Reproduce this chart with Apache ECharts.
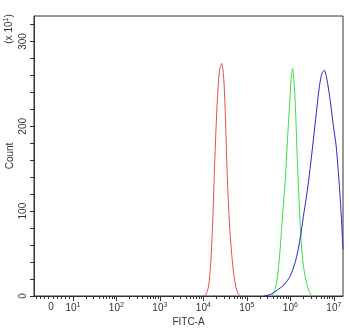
<!DOCTYPE html>
<html><head><meta charset="utf-8">
<script src="https://cdn.jsdelivr.net/npm/echarts@6/dist/echarts.min.js"></script>
<style>html,body{margin:0;padding:0;background:#fff}#chart{width:350px;height:329px}</style>
</head><body><div id="chart"></div>
<script>
// Histogram of FITC-A intensity. X values are in decades (log10 of intensity),
// Y values are event counts (axis labelled in units of x10).
const fitcRed   = [4.00, 4.06, 4.12, 4.17, 4.22, 4.27, 4.32, 4.37, 4.42, 4.47, 4.51, 4.55, 4.60, 4.65, 4.70, 4.75, 4.80, 4.85];
const countRed  = [0, 2, 12, 40, 95, 170, 230, 265, 274, 255, 205, 140, 85, 50, 25, 10, 3, 0];

const fitcGreen  = [5.55, 5.62, 5.69, 5.76, 5.82, 5.88, 5.94, 5.99, 6.02, 6.05, 6.08, 6.11, 6.15, 6.18, 6.22, 6.26, 6.31, 6.36, 6.42, 6.48, 6.52];
const countGreen = [0, 4, 18, 52, 95, 135, 190, 232, 258, 268, 255, 230, 175, 135, 90, 55, 32, 18, 7, 1, 0];

const fitcBlue  = [5.40, 5.55, 5.70, 5.85, 5.99, 6.10, 6.18, 6.25, 6.30, 6.36, 6.42, 6.48, 6.55, 6.61, 6.67, 6.73, 6.78, 6.83, 6.88, 6.93, 6.99, 7.05, 7.10, 7.15, 7.18, 7.21];
const countBlue = [0, 2, 7, 13, 23, 38, 55, 76, 94, 114, 136, 162, 194, 222, 248, 263, 266, 258, 243, 225, 200, 178, 148, 112, 85, 55];

// Axis ticks and labels
const zeroPosition = 0.5;               // where "0" sits in the linear part of the scale
const decadeExponents = [1, 2, 3, 4, 5, 6, 7];
const countTicks = [0, 100, 200, 300];

const FONT = "'Liberation Sans Narrow', 'Liberation Sans', Arial, sans-serif";
const INK = '#333';

// Minor x ticks: 2..9 within each decade, plus evenly spaced marks in the linear region
const minorX = [];
for (let k = 1; k <= 9; k++) minorX.push(1 - k * 0.0925);
decadeExponents.forEach(function (n) {
  for (let m = 2; m <= 9; m++) {
    const v = n + Math.log10(m);
    if (v <= 7.21) minorX.push(v);
  }
});
// Y ticks every 20 counts
const yTicks = [];
for (let v = 0; v <= 320; v += 20) yTicks.push(v);

function pairs(xs, ys) { return xs.map(function (x, i) { return [x, ys[i]]; }); }

const chart = echarts.init(document.getElementById('chart'), null, { renderer: 'canvas' });
chart.setOption({
  animation: false,
  backgroundColor: '#fff',
  grid: { left: 34, top: 16, width: 309, height: 280, outerBoundsMode: 'none', containLabel: false,
          show: true, borderColor: INK, borderWidth: 1, backgroundColor: 'transparent' },
  xAxis: [{
    type: 'value', min: 0.106, max: 7.21,
    name: 'FITC-A', nameLocation: 'middle', nameGap: 21, nameMoveOverlap: false,
    nameTextStyle: { fontFamily: FONT, fontSize: 10, color: INK },
    axisLine: { show: true, lineStyle: { color: INK, width: 1 } },
    axisTick: { show: true, customValues: decadeExponents, length: 5, lineStyle: { color: INK } },
    axisLabel: {
      customValues: [zeroPosition].concat(decadeExponents), margin: 6,
      fontFamily: FONT, fontSize: 10, color: INK,
      formatter: function (v) {
        if (Math.abs(v - zeroPosition) < 1e-6) return '{b|0}';
        return '{b|10}{s|' + Math.round(v) + '}';
      },
      rich: {
        b: { fontFamily: FONT, fontSize: 10, color: INK },
        s: { fontFamily: FONT, fontSize: 7, color: INK, verticalAlign: 'top', padding: [0, 0, 6, 0] }
      }
    },
    splitLine: { show: false }
  }, {
    type: 'value', min: 0.106, max: 7.21, position: 'bottom',
    axisLine: { show: false },
    axisTick: { show: true, customValues: minorX, length: 3, lineStyle: { color: INK } },
    axisLabel: { show: false },
    splitLine: { show: false }
  }],
  yAxis: {
    type: 'value', min: 0, max: 330,
    name: 'Count', nameLocation: 'middle', nameGap: 19, nameRotate: 90, nameMoveOverlap: false,
    nameTextStyle: { fontFamily: FONT, fontSize: 10, color: INK },
    axisLine: { show: true, lineStyle: { color: INK, width: 1 } },
    axisTick: { show: true, customValues: yTicks, length: 4, lineStyle: { color: INK } },
    axisLabel: { customValues: countTicks, rotate: 90, margin: 6, fontFamily: FONT, fontSize: 10, color: INK },
    splitLine: { show: false }
  },
  graphic: [{
    type: 'text', x: 9, y: 29, rotation: Math.PI / 2,
    style: {
      text: '(x 10{s|1})', fill: INK, font: '10px ' + FONT, align: 'center', verticalAlign: 'middle',
      rich: { s: { fontFamily: FONT, fontSize: 7, fill: INK, verticalAlign: 'top', padding: [0, 0, 6, 0] } }
    }
  }],
  series: [
    { type: 'line', name: 'red', data: pairs(fitcRed, countRed), smooth: 0.3, showSymbol: false, lineStyle: { color: '#e05050', width: 1 }, clip: true },
    { type: 'line', name: 'green', data: pairs(fitcGreen, countGreen), smooth: 0.3, showSymbol: false, lineStyle: { color: '#40dc40', width: 1 }, clip: true },
    { type: 'line', name: 'blue', data: pairs(fitcBlue, countBlue), smooth: 0.3, showSymbol: false, lineStyle: { color: '#2828c8', width: 1 }, clip: true }
  ]
});
</script>
</body></html>
